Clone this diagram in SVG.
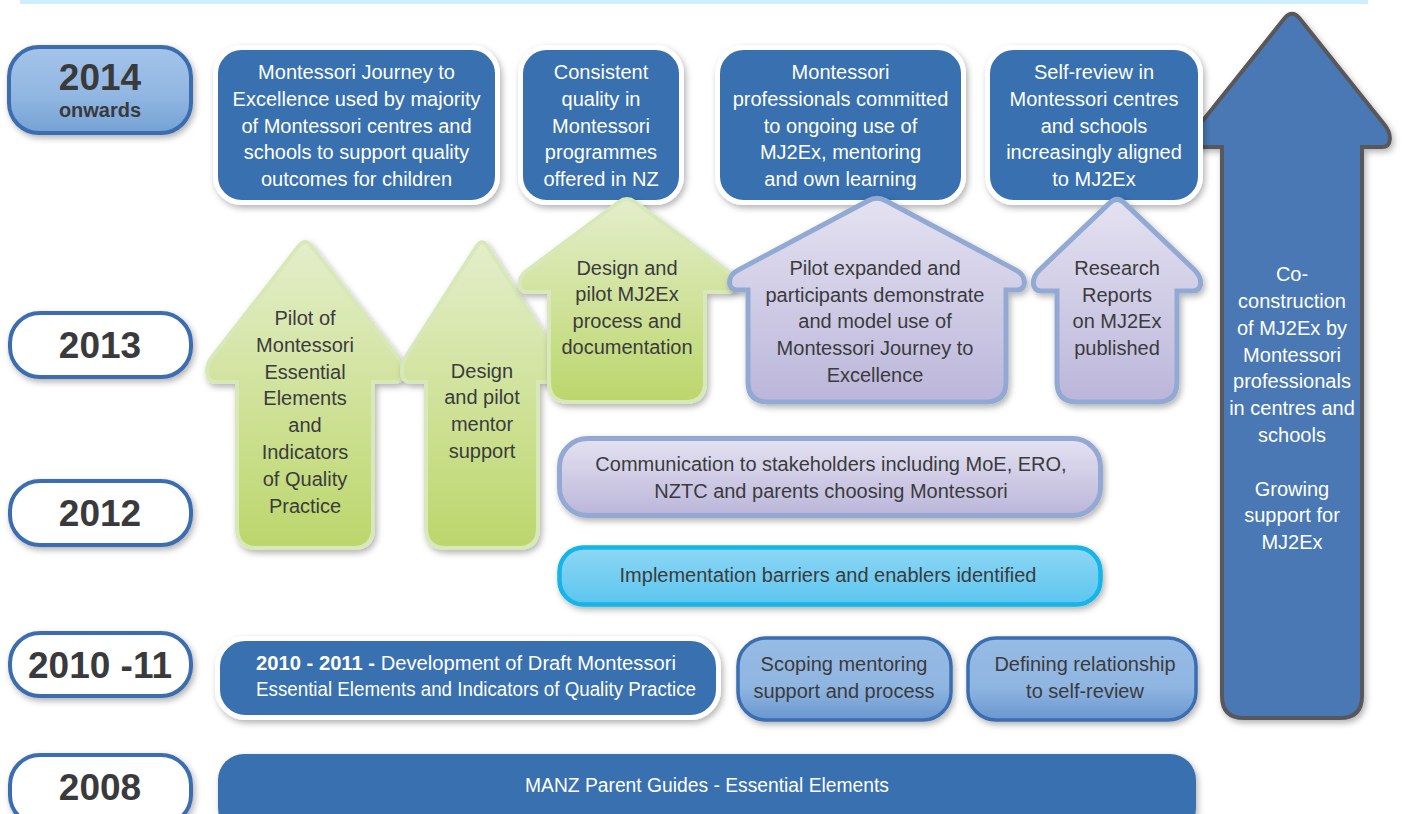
<svg xmlns="http://www.w3.org/2000/svg" width="1402" height="814" viewBox="0 0 1402 814">
  <defs>
    <filter id="shadow" x="-10%" y="-10%" width="125%" height="130%">
      <feDropShadow dx="2" dy="3" stdDeviation="3" flood-color="#000" flood-opacity="0.3"/>
    </filter>
    <linearGradient id="gYear" x1="0" y1="0" x2="0" y2="1">
      <stop offset="0" stop-color="#a3c4ea"/>
      <stop offset="0.55" stop-color="#92b7e2"/>
      <stop offset="1" stop-color="#74a2d4"/>
    </linearGradient>
    <linearGradient id="gGreen" x1="0" y1="0" x2="0" y2="1">
      <stop offset="0" stop-color="#e4eecb"/>
      <stop offset="1" stop-color="#bcd66b"/>
    </linearGradient>
    <linearGradient id="gPurple" x1="0" y1="0" x2="0" y2="1">
      <stop offset="0" stop-color="#e4e2f1"/>
      <stop offset="1" stop-color="#bbb6da"/>
    </linearGradient>
    <linearGradient id="gCyan" x1="0" y1="0" x2="0" y2="1">
      <stop offset="0" stop-color="#8dd7f5"/>
      <stop offset="1" stop-color="#5cc5ef"/>
    </linearGradient>
    <linearGradient id="gSky" x1="0" y1="0" x2="0" y2="1">
      <stop offset="0" stop-color="#96bbe4"/>
      <stop offset="0.6" stop-color="#8fb5e1"/>
      <stop offset="1" stop-color="#6a97cf"/>
    </linearGradient>
  </defs>
  <style>
    text { font-family: "Liberation Sans", Arial, sans-serif; font-size: 20px; text-anchor: middle; }
    .light { fill: #ffffff; }
    .dark { fill: #3b3b3d; }
    .year { fill: #3a3a3c; font-weight: bold; font-size: 37px; }
    .yearSub { fill: #3a3a3c; font-weight: bold; font-size: 20px; }
    .yearBox { stroke: #3b6db0; stroke-width: 4; filter: url(#shadow); }
    .outcome { fill: #3870b0; stroke: #ffffff; stroke-width: 5; filter: url(#shadow); }
    .green { fill: url(#gGreen); stroke: #d9e8b8; stroke-width: 4; filter: url(#shadow); }
    .purple { fill: url(#gPurple); stroke: #91a9d3; stroke-width: 5; filter: url(#shadow); }
    .sky { fill: url(#gSky); stroke: #3a6eb0; stroke-width: 3.5; filter: url(#shadow); }
  </style>

  <rect x="0" y="0" width="1402" height="814" fill="#ffffff"/>
  <!-- header band -->
  <rect x="20" y="0" width="1348" height="4" fill="#cdeefa"/>

  <!-- long-term arrow, drawn first so the top outcome boxes sit over it -->
  <g id="co-construction">
    <path d="M1284.5,18.37 Q1292,9 1299.5,18.37 L1384.5,124.63 C1392,134 1392,147 1382,147 L1362,147 L1362,696 Q1362,718 1340,718 L1244,718 Q1222,718 1222,696 L1222,147 L1202,147 C1192,147 1192,134 1199.5,124.63 Z" fill="#4a78b4" stroke="#58595b" stroke-width="4" filter="url(#shadow)"/>
    <text class="light" x="1292" y="281">Co-</text>
    <text class="light" x="1292" y="308">construction</text>
    <text class="light" x="1292" y="335">of MJ2Ex by</text>
    <text class="light" x="1292" y="362">Montessori</text>
    <text class="light" x="1292" y="388">professionals</text>
    <text class="light" x="1292" y="415">in centres and</text>
    <text class="light" x="1292" y="442">schools</text>
    <text class="light" x="1292" y="496">Growing</text>
    <text class="light" x="1292" y="522">support for</text>
    <text class="light" x="1292" y="549">MJ2Ex</text>
  </g>

  <!-- year labels -->
  <g id="year-2014">
    <rect class="yearBox" x="9" y="47" width="182" height="86" rx="30" fill="url(#gYear)"/>
    <text class="year" x="100" y="90" font-size="36">2014</text>
    <text class="yearSub" x="100" y="117">onwards</text>
  </g>
  <g id="year-2013">
    <rect class="yearBox" x="10" y="313" width="181" height="64" rx="30" fill="#ffffff"/>
    <text class="year" x="100" y="358">2013</text>
  </g>
  <g id="year-2012">
    <rect class="yearBox" x="10" y="481" width="181" height="64" rx="30" fill="#ffffff"/>
    <text class="year" x="100" y="526">2012</text>
  </g>
  <g id="year-2010-11">
    <rect class="yearBox" x="10" y="633" width="181" height="63" rx="30" fill="#ffffff"/>
    <text class="year" x="100" y="678" textLength="144" lengthAdjust="spacingAndGlyphs">2010 -11</text>
  </g>
  <g id="year-2008">
    <rect class="yearBox" x="10" y="755" width="181" height="70" rx="30" fill="#ffffff"/>
    <text class="year" x="100" y="800">2008</text>
  </g>

  <!-- 2014 outcomes -->
  <g id="outcome-majority">
    <rect class="outcome" x="215.5" y="47.5" width="282" height="155" rx="26"/>
    <text class="light" x="356.5" y="79">Montessori Journey to</text>
    <text class="light" x="356.5" y="106">Excellence used by majority</text>
    <text class="light" x="356.5" y="133">of Montessori centres and</text>
    <text class="light" x="356.5" y="159">schools to support quality</text>
    <text class="light" x="356.5" y="186">outcomes for children</text>
  </g>
  <g id="outcome-consistent">
    <rect class="outcome" x="520.5" y="47.5" width="161" height="155" rx="26"/>
    <text class="light" x="601" y="79">Consistent</text>
    <text class="light" x="601" y="106">quality in</text>
    <text class="light" x="601" y="133">Montessori</text>
    <text class="light" x="601" y="159">programmes</text>
    <text class="light" x="601" y="186">offered in NZ</text>
  </g>
  <g id="outcome-professionals">
    <rect class="outcome" x="717.5" y="47.5" width="246" height="155" rx="26"/>
    <text class="light" x="840.5" y="79">Montessori</text>
    <text class="light" x="840.5" y="106">professionals committed</text>
    <text class="light" x="840.5" y="133">to ongoing use of</text>
    <text class="light" x="840.5" y="159">MJ2Ex, mentoring</text>
    <text class="light" x="840.5" y="186">and own learning</text>
  </g>
  <g id="outcome-self-review">
    <rect class="outcome" x="987.5" y="47.5" width="213" height="155" rx="26"/>
    <text class="light" x="1094" y="79">Self-review in</text>
    <text class="light" x="1094" y="106">Montessori centres</text>
    <text class="light" x="1094" y="133">and schools</text>
    <text class="light" x="1094" y="159">increasingly aligned</text>
    <text class="light" x="1094" y="186">to MJ2Ex</text>
  </g>

  <!-- 2012-2013 activity arrows -->
  <g id="pilot-essential-elements">
    <path class="green" d="M298.84,245.88 Q305,238 311.16,245.88 L397.61,356.54 C405,366 405,382 395,382 L373,382 L373,528 Q373,548 353,548 L257,548 Q237,548 237,528 L237,382 L215,382 C205,382 205,366 212.39,356.54 Z"/>
    <text class="dark" x="305" y="325">Pilot of</text>
    <text class="dark" x="305" y="352">Montessori</text>
    <text class="dark" x="305" y="379">Essential</text>
    <text class="dark" x="305" y="405">Elements</text>
    <text class="dark" x="305" y="432">and</text>
    <text class="dark" x="305" y="459">Indicators</text>
    <text class="dark" x="305" y="486">of Quality</text>
    <text class="dark" x="305" y="513">Practice</text>
  </g>
  <g id="mentor-support">
    <path class="green" d="M476.61,246.42 Q482,238 487.39,246.42 L557.53,355.9 C564,366 564,382 554,382 L538,382 L538,528 Q538,548 518,548 L446,548 Q426,548 426,528 L426,382 L410,382 C400,382 400,366 406.47,355.9 Z"/>
    <text class="dark" x="482" y="378">Design</text>
    <text class="dark" x="482" y="404">and pilot</text>
    <text class="dark" x="482" y="431">mentor</text>
    <text class="dark" x="482" y="458">support</text>
  </g>
  <g id="mj2ex-process">
    <path class="green" d="M618.98,201.98 Q627,196 635.02,201.98 L727.38,270.83 C737,278 737,292 727,292 L705,292 L705,382 Q705,402 685,402 L569,402 Q549,402 549,382 L549,292 L527,292 C517,292 517,278 526.62,270.83 Z"/>
    <text class="dark" x="627" y="275">Design and</text>
    <text class="dark" x="627" y="301">pilot MJ2Ex</text>
    <text class="dark" x="627" y="328">process and</text>
    <text class="dark" x="627" y="354">documentation</text>
  </g>
  <g id="pilot-expanded">
    <path class="purple" d="M868.18,200.71 Q877,196 885.82,200.71 L1016.41,270.35 C1027,276 1027,290 1017,290 L1006,290 L1006,382 Q1006,402 986,402 L768,402 Q748,402 748,382 L748,290 L737,290 C727,290 727,276 737.59,270.35 Z"/>
    <text class="dark" x="875" y="275">Pilot expanded and</text>
    <text class="dark" x="875" y="302">participants demonstrate</text>
    <text class="dark" x="875" y="328">and model use of</text>
    <text class="dark" x="875" y="355">Montessori Journey to</text>
    <text class="dark" x="875" y="382">Excellence</text>
  </g>
  <g id="research-reports">
    <path class="purple" d="M1109.76,202.9 Q1117,196 1124.24,202.9 L1194.31,269.72 C1203,278 1203,291 1193,291 L1177,291 L1177,382 Q1177,402 1157,402 L1077,402 Q1057,402 1057,382 L1057,291 L1041,291 C1031,291 1031,278 1039.69,269.72 Z"/>
    <text class="dark" x="1117" y="275">Research</text>
    <text class="dark" x="1117" y="302">Reports</text>
    <text class="dark" x="1117" y="328">on MJ2Ex</text>
    <text class="dark" x="1117" y="355">published</text>
  </g>

  <!-- 2012 bars -->
  <g id="communication">
    <rect x="559.5" y="438.5" width="541" height="77" rx="28" fill="url(#gPurple)" stroke="#93a9d3" stroke-width="5" filter="url(#shadow)"/>
    <text class="dark" x="831" y="471">Communication to stakeholders including MoE, ERO,</text>
    <text class="dark" x="831" y="498">NZTC and parents choosing Montessori</text>
  </g>
  <g id="implementation">
    <rect x="559.5" y="547.5" width="541" height="57" rx="24" fill="url(#gCyan)" stroke="#14b5e9" stroke-width="4.5" filter="url(#shadow)"/>
    <text class="dark" x="828" y="582">Implementation barriers and enablers identified</text>
  </g>

  <!-- 2010-11 row -->
  <g id="draft-development">
    <rect class="outcome" x="217.5" y="638.5" width="501" height="79" rx="28"/>
    <text class="light" x="466" y="670" font-size="19" textLength="420" lengthAdjust="spacingAndGlyphs"><tspan font-weight="bold">2010 - 2011 -</tspan> Development of Draft Montessori</text>
    <text class="light" x="476" y="696" font-size="19" textLength="440" lengthAdjust="spacingAndGlyphs">Essential Elements and Indicators of Quality Practice</text>
  </g>
  <g id="scoping-mentoring">
    <rect class="sky" x="738" y="638" width="213" height="82" rx="28"/>
    <text class="dark" x="844" y="671">Scoping mentoring</text>
    <text class="dark" x="844" y="698">support and process</text>
  </g>
  <g id="defining-relationship">
    <rect class="sky" x="968" y="638" width="228" height="82" rx="28"/>
    <text class="dark" x="1085" y="671">Defining relationship</text>
    <text class="dark" x="1085" y="698">to self-review</text>
  </g>

  <!-- 2008 row -->
  <g id="parent-guides">
    <rect x="218" y="754" width="978" height="80" rx="26" fill="#3870b0" filter="url(#shadow)"/>
    <text class="light" x="707" y="792" font-size="19" textLength="364" lengthAdjust="spacingAndGlyphs">MANZ Parent Guides - Essential Elements</text>
  </g>
</svg>
